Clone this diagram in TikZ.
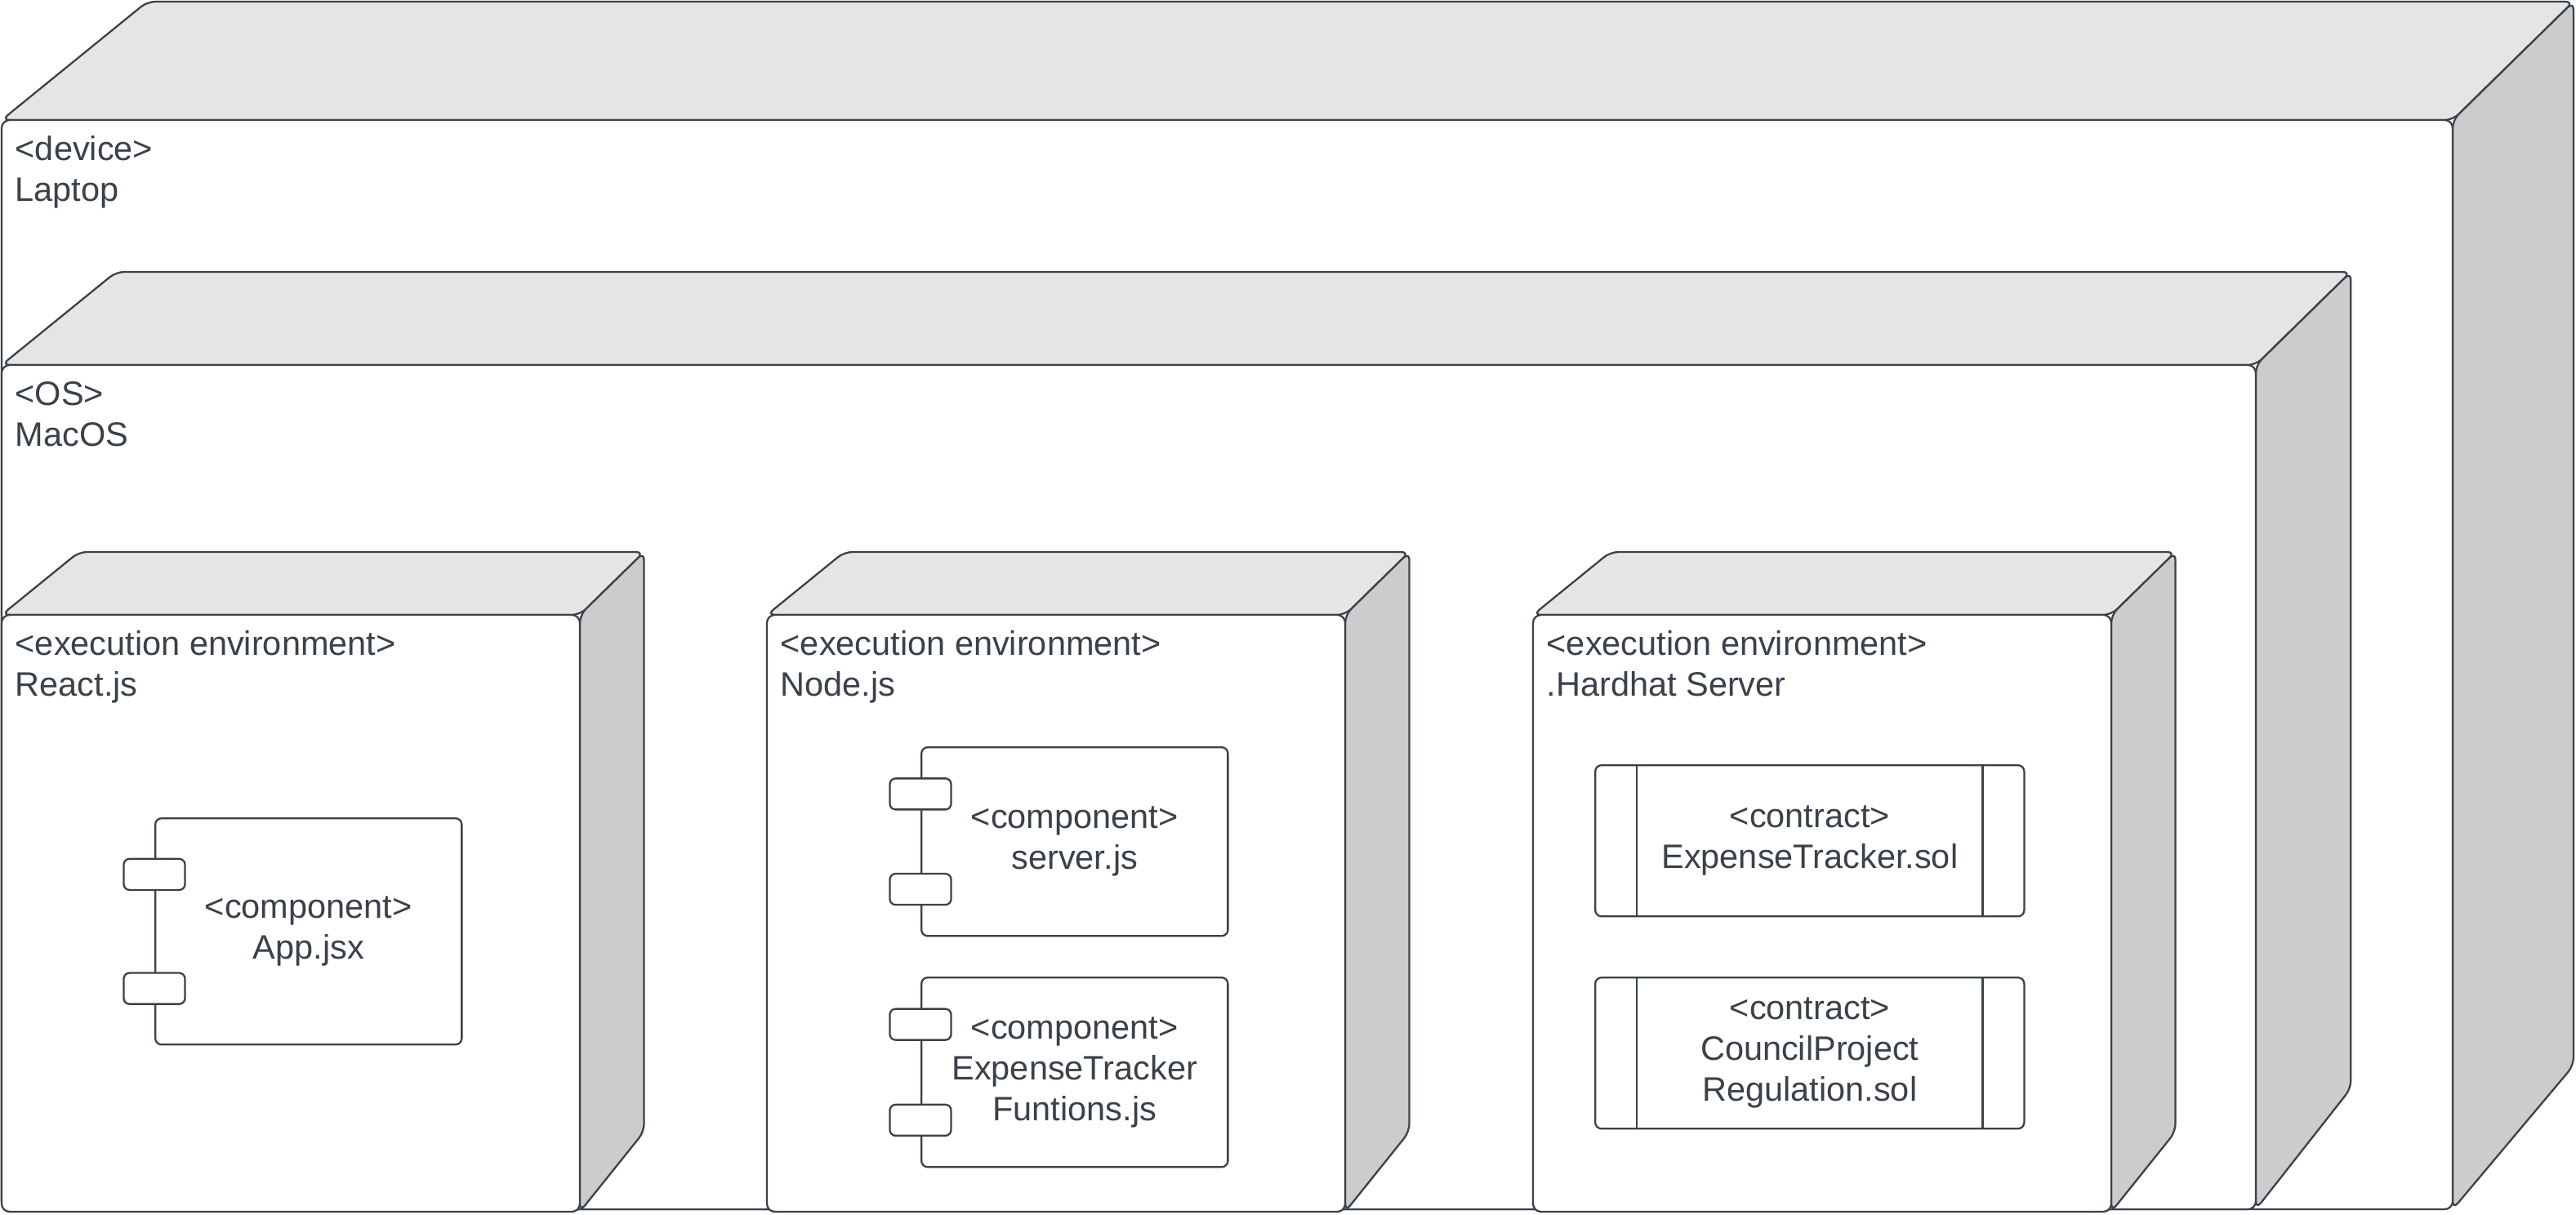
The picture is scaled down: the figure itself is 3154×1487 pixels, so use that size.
\documentclass[tikz,border=0pt]{standalone}
\usepackage{fontspec}
\setmainfont{Liberation Sans}
\usetikzlibrary{positioning, calc}
\definecolor{ink}{HTML}{3A414A}
\definecolor{topgray}{HTML}{E5E5E5}
\definecolor{sidegray}{HTML}{CCCCCC}

% #1 name, (#2,#3)-(#4,#5) front face, #6 depth, #7 back bottom, #8 label
\newcommand{\nodecube}[8]{%
    \draw[face, fill=topgray] (#2,#3) -- ({#2+1.23*#6},{#3-#6}) -- ({#4+1.02*#6},{#3-#6}) -- (#4,#3) -- cycle;
    \draw[face, fill=sidegray] (#4,#3) -- ({#4+1.02*#6},{#3-#6}) -- ({#4+1.02*#6},#7) -- (#4,#5) -- cycle;
    \draw[face, fill=white] (#2,#3) rectangle (#4,#5);
    \coordinate (#1) at (#2,#3);
    \node[lbl, anchor=north west] (#1-lbl) at ([shift={(16,14)}]#1) {\strut#8};
}

\begin{document}
\begin{tikzpicture}[x=0.01cm, y=-0.01cm,
    face/.style={draw=ink, line width=0.65pt, rounded corners=2.8pt, line join=round},
    lbl/.style={text=ink, font=\fontsize{11.8}{14.2}\selectfont, align=left, inner sep=0pt},
    comp/.style={draw=ink, line width=0.65pt, fill=white, rounded corners=2.2pt, text=ink,
        font=\fontsize{11.8}{14.2}\selectfont, align=center, inner sep=0pt, anchor=north west},
    port/.style={draw=ink, line width=0.65pt, fill=white, rounded corners=2pt,
        minimum width=0.75cm, minimum height=0.38cm, inner sep=0pt}]
    \useasboundingbox (0,0) rectangle (3154,1487);

    \nodecube{laptop}{2}{147}{3003}{1481}{145}{1305}{<device>\\Laptop}
    \nodecube{macos}{2}{447}{2762}{1481}{114}{1333}{<OS>\\MacOS}
    \foreach \x/\n/\t in {2/react/React.js, 939/nodejs/Node.js, 1877/hardhat/.Hardhat Server} {
        \nodecube{\n}{\x}{753}{\x+708}{1484}{77}{1386}{<execution environment>\\\t}
    }

    % components
    \node[comp, minimum width=3.75cm, minimum height=2.77cm] (app) at (189,1001) {<component>\\App.jsx};
    \node[comp, minimum width=3.75cm, minimum height=2.31cm] (server) at (1127,914) {<component>\\server.js};
    \node[comp, minimum width=3.75cm, minimum height=2.32cm] (funcs) at (1127,1196) {<component>\\ExpenseTracker\\Funtions.js};
    \foreach \c in {app, server, funcs} {
        \node[port] (\c-p1) at ($(\c.north west)!.25!(\c.south west)$) {};
        \node[port] (\c-p2) at ($(\c.north west)!.75!(\c.south west)$) {};
    }

    % contracts
    \node[comp, minimum width=5.25cm, minimum height=1.85cm] (expense) at (1952,936) {<contract>\\ExpenseTracker.sol};
    \node[comp, minimum width=5.25cm, minimum height=1.85cm] (council) at (1952,1196) {<contract>\\CouncilProject\\Regulation.sol};
    \foreach \c in {expense, council} {
        \draw[draw=ink, line width=0.65pt] ([xshift=0.52cm]\c.north west) -- ([xshift=0.52cm]\c.south west);
        \draw[draw=ink, line width=0.65pt] ([xshift=-0.52cm]\c.north east) -- ([xshift=-0.52cm]\c.south east);
    }
\end{tikzpicture}
\end{document}
